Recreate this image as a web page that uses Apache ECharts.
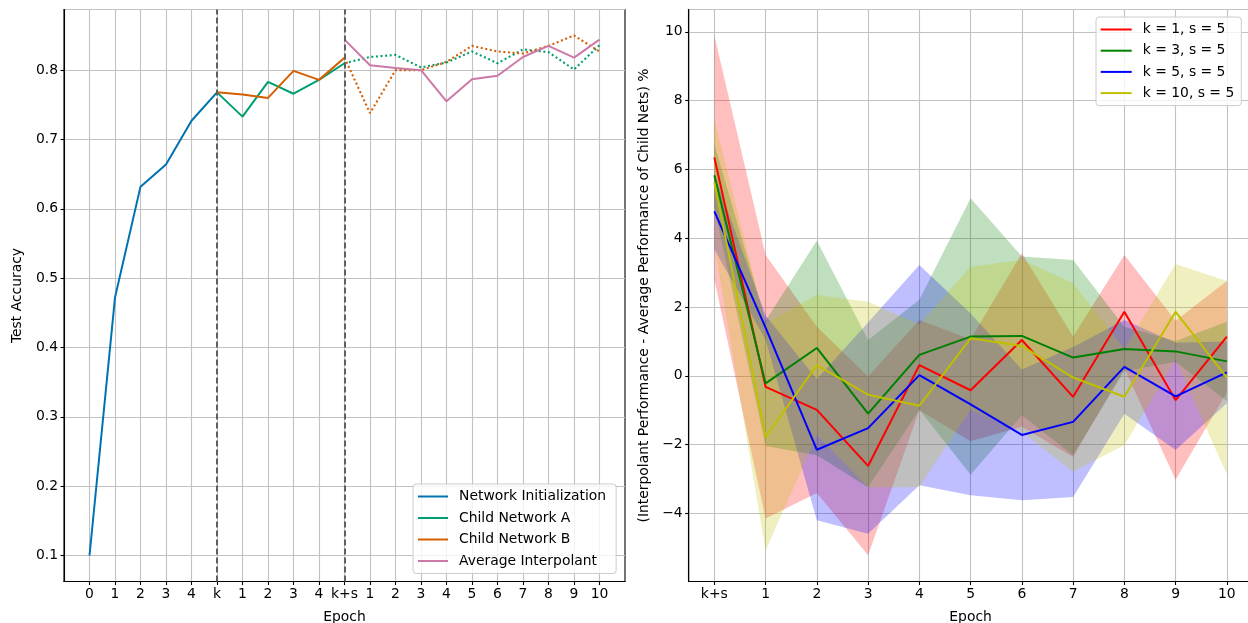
<!DOCTYPE html>
<html><head><meta charset="utf-8">
<script src="https://cdn.jsdelivr.net/npm/echarts@6/dist/echarts.min.js"></script>
<style>html,body{margin:0;padding:0;background:#fff}#c{width:1248px;height:623px}</style>
</head><body><div id="c"></div>
<script>
// ---------- Left panel data ----------
const leftTickLabels = ['0','1','2','3','4','k','1','2','3','4','k+s','1','2','3','4','5','6','7','8','9','10'];
const netInit      = [0.100, 0.472, 0.632, 0.664, 0.727, 0.768];                 // positions 0..5
const childA       = [0.768, 0.733, 0.783, 0.766, 0.786, 0.810];                 // positions 5..10
const childB       = [0.768, 0.765, 0.760, 0.799, 0.786, 0.818];                 // positions 5..10
const childAAfter  = [0.810, 0.819, 0.822, 0.804, 0.811, 0.827, 0.810, 0.830, 0.826, 0.801, 0.836]; // 10..20
const childBAfter  = [0.818, 0.738, 0.800, 0.800, 0.812, 0.835, 0.827, 0.824, 0.835, 0.850, 0.827]; // 10..20
const avgInterp    = [0.844, 0.807, 0.803, 0.800, 0.755, 0.787, 0.792, 0.819, 0.835, 0.818, 0.844]; // 10..20
const markerPositions = [5, 10];

// ---------- Right panel data ----------
const rightTickLabels = ['k+s','1','2','3','4','5','6','7','8','9','10'];
const rightNames = ['k = 1, s = 5','k = 3, s = 5','k = 5, s = 5','k = 10, s = 5'];
const meanK1  = [6.35, -0.32, -0.99, -2.62, 0.31, -0.42, 1.04, -0.61, 1.86, -0.71, 1.14];
const meanK3  = [5.83, -0.22, 0.81, -1.10, 0.61, 1.14, 1.16, 0.53, 0.78, 0.71, 0.42];
const meanK5  = [4.78, 1.40, -2.15, -1.52, 0.02, -0.83, -1.72, -1.34, 0.26, -0.60, 0.10];
const meanK10 = [5.63, -1.78, 0.31, -0.55, -0.87, 1.09, 0.87, -0.05, -0.61, 1.86, -0.05];
const stdK1   = [3.55, 3.83, 2.42, 2.60, 1.31, 1.48, 2.52, 1.75, 1.65, 2.31, 1.62];
const stdK3   = [0.92, 1.82, 3.12, 2.14, 1.60, 4.02, 2.31, 2.84, 0.65, 0.30, 1.15];
const stdK5   = [1.10, 0.35, 2.05, 3.07, 3.20, 2.64, 1.90, 2.18, 1.36, 1.56, 0.90];
const stdK10  = [1.84, 3.30, 2.04, 2.70, 2.36, 2.08, 2.50, 2.74, 1.40, 1.39, 2.81];

const FONT = 'DejaVu Sans';
const FS = 13.9;
const leftColors = {init:'#0072B2', a:'#009E73', b:'#D55E00', avg:'#CC79A7'};
const rightColors = ['#ff0000', '#008000', '#0000ff', '#bfbf00'];
const gridColor = '#c2c2c2';
const minus = v => String(v).replace('-', '\u2212');

function pts(arr, offset){ return arr.map((v,i)=>[i+offset, v]); }

const series = [];
// left panel
series.push({name:'Network Initialization', type:'line', xAxisIndex:0, yAxisIndex:0, data:pts(netInit,0),
  symbol:'none', lineStyle:{color:leftColors.init, width:2}, itemStyle:{color:leftColors.init}, z:3,
  markLine:{silent:true, symbol:['none','none'], label:{show:false}, animation:false,
    lineStyle:{type:[6,3], color:'#5f5f5f', width:2},
    data: markerPositions.map(p=>({xAxis:p}))}});
series.push({name:'Child Network A', type:'line', xAxisIndex:0, yAxisIndex:0, data:pts(childA,5),
  symbol:'none', lineStyle:{color:leftColors.a, width:2}, itemStyle:{color:leftColors.a}, z:3});
series.push({name:'Child Network B', type:'line', xAxisIndex:0, yAxisIndex:0, data:pts(childB,5),
  symbol:'none', lineStyle:{color:leftColors.b, width:2}, itemStyle:{color:leftColors.b}, z:3});
series.push({name:'A (after)', type:'line', xAxisIndex:0, yAxisIndex:0, data:pts(childAAfter,10),
  symbol:'none', lineStyle:{color:leftColors.a, width:2.1, type:[2,2.6], cap:'butt'}, z:3});
series.push({name:'B (after)', type:'line', xAxisIndex:0, yAxisIndex:0, data:pts(childBAfter,10),
  symbol:'none', lineStyle:{color:leftColors.b, width:2.1, type:[2,2.6], cap:'butt'}, z:3});
series.push({name:'Average Interpolant', type:'line', xAxisIndex:0, yAxisIndex:0, data:pts(avgInterp,10),
  symbol:'none', lineStyle:{color:leftColors.avg, width:2}, itemStyle:{color:leftColors.avg}, z:3});

// right panel bands (mean ± std)
const means = [meanK1, meanK3, meanK5, meanK10];
const stds = [stdK1, stdK3, stdK5, stdK10];
means.forEach((m, k) => {
  const s = stds[k];
  series.push({name:'lo'+k, type:'line', xAxisIndex:1, yAxisIndex:1, stack:'band'+k, stackStrategy:'all',
    data:m.map((v,i)=>+(v - s[i]).toFixed(3)), symbol:'none', lineStyle:{width:0, opacity:0}, silent:true, z:1});
  series.push({name:'bw'+k, type:'line', xAxisIndex:1, yAxisIndex:1, stack:'band'+k, stackStrategy:'all',
    data:s.map(v=>+(2*v).toFixed(3)), symbol:'none', lineStyle:{width:0, opacity:0}, silent:true, z:1,
    areaStyle:{color:rightColors[k], opacity:0.25}});
});
means.forEach((m, k) => {
  series.push({name:rightNames[k], type:'line', xAxisIndex:1, yAxisIndex:1, data:m, symbol:'none',
    lineStyle:{color:rightColors[k], width:2}, itemStyle:{color:rightColors[k]}, z:3});
});

const axisLineStyle = {color:'#000', width:1.1};
const labelStyle = {color:'#000', fontFamily:FONT, fontSize:FS};

const option = {
  animation:false,
  backgroundColor:'#fff',
  textStyle:{fontFamily:FONT},
  grid:[
    {left:64, top:9.5, width:561, height:572, show:true, borderColor:'#000', borderWidth:1.1, backgroundColor:'transparent', containLabel:false, outerBoundsMode:'none'},
    {left:688.7, top:9.5, width:563.8, height:572, show:true, borderColor:'#000', borderWidth:1.1, backgroundColor:'transparent', containLabel:false, outerBoundsMode:'none'}
  ],
  xAxis:[
    {type:'value', gridIndex:0, min:-1, max:21, interval:1,
      axisLine:{show:true, onZero:false, lineStyle:axisLineStyle},
      axisTick:{show:true, length:3.5, lineStyle:axisLineStyle, customValues:leftTickLabels.map((_,i)=>i)},
      axisLabel:Object.assign({margin:6, formatter:v=>(v>=0 && v<leftTickLabels.length)? leftTickLabels[v] : '',
        customValues:leftTickLabels.map((_,i)=>i)}, labelStyle),
      splitLine:{show:true, lineStyle:{color:gridColor, width:1.1}},
      name:'Epoch', nameLocation:'middle', nameGap:29, nameTextStyle:labelStyle},
    {type:'category', gridIndex:1, data:rightTickLabels, boundaryGap:true,
      axisLine:{show:true, onZero:false, lineStyle:axisLineStyle},
      axisTick:{show:true, alignWithLabel:true, length:3.5, lineStyle:axisLineStyle},
      axisLabel:Object.assign({margin:6, interval:0}, labelStyle),
      splitLine:{show:true, alignWithLabel:true, interval:0, lineStyle:{color:gridColor, width:1.1}},
      name:'Epoch', nameLocation:'middle', nameGap:29, nameTextStyle:labelStyle}
  ],
  yAxis:[
    {type:'value', gridIndex:0, min:0.0625, max:0.8875, minInterval:0.1, maxInterval:0.1, splitNumber:8,
      axisLine:{show:true, onZero:false, lineStyle:axisLineStyle},
      axisTick:{show:true, length:3.5, lineStyle:axisLineStyle},
      axisLabel:Object.assign({margin:6, showMinLabel:false, showMaxLabel:false}, labelStyle),
      splitLine:{show:true, lineStyle:{color:gridColor, width:1.1}},
      name:'Test Accuracy', nameLocation:'middle', nameGap:40, nameTextStyle:labelStyle},
    {type:'value', gridIndex:1, min:-5.98, max:10.65, minInterval:2, maxInterval:2, splitNumber:8,
      axisLine:{show:true, onZero:false, lineStyle:axisLineStyle},
      axisTick:{show:true, length:3.5, lineStyle:axisLineStyle},
      axisLabel:Object.assign({margin:6, showMinLabel:false, showMaxLabel:false, formatter:v=>minus(v)}, labelStyle),
      splitLine:{show:true, lineStyle:{color:gridColor, width:1.1}},
      name:'(Interpolant Performance - Average Performance of Child Nets) %', nameLocation:'middle', nameGap:37, nameTextStyle:labelStyle}
  ],
  legend:[
    {orient:'vertical', left:413, top:484, data:['Network Initialization','Child Network A','Child Network B','Average Interpolant'],
      icon:'rect', itemWidth:30, itemHeight:2, itemGap:5.5, padding:[4.5,10,4.5,5],
      backgroundColor:'rgba(255,255,255,0.8)', borderColor:'#cccccc', borderWidth:1, borderRadius:3,
      textStyle:{color:'#000', fontFamily:FONT, fontSize:FS, lineHeight:16, padding:[0,0,0,6]}, selectedMode:false},
    {orient:'vertical', left:1096, top:17, data:rightNames,
      icon:'rect', itemWidth:31, itemHeight:2, itemGap:5.2, padding:[4.5,7,4.5,4.7],
      backgroundColor:'rgba(255,255,255,0.8)', borderColor:'#cccccc', borderWidth:1, borderRadius:3,
      textStyle:{color:'#000', fontFamily:FONT, fontSize:FS, lineHeight:16, padding:[0,0,0,6]}, selectedMode:false}
  ],
  series: series
};
const chart = echarts.init(document.getElementById('c'), null, {renderer:'canvas'});
chart.setOption(option);
</script>
</body></html>
